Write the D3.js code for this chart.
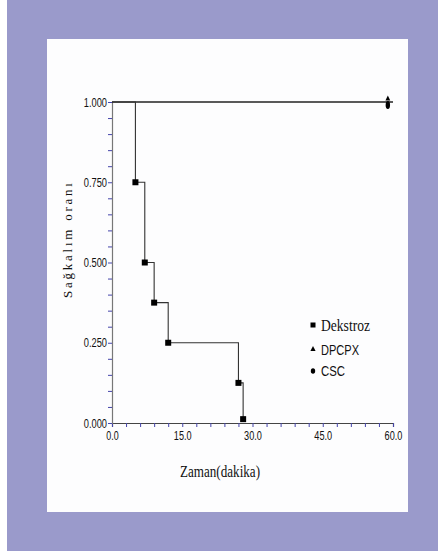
<!DOCTYPE html>
<html><head><meta charset="utf-8">
<script src="https://cdn.jsdelivr.net/npm/d3@7"></script>
<style>body{margin:0;background:#fff}svg{display:block}</style>
</head><body>
<script>
// Data
const dekstrozTime = [0, 5, 7, 9, 12, 27, 28];
const dekstrozSurv = [1.0, 0.75, 0.5, 0.375, 0.25, 0.125, 0.012];
const flatTime = [0, 60];
const flatSurv = [1.0, 1.0];
const censorTime = [58.9];
const censorSurv = [1.0];
const xTicks = [0, 15, 30, 45, 60];
const yTicks = [0, 0.25, 0.5, 0.75, 1.0];
const legendNames = ["Dekstroz", "DPCPX", "CSC"];

const W = 438, H = 555;
const SANS = "Liberation Sans, Arial, sans-serif";
const SERIF = "Liberation Serif, Times New Roman, serif";
const numLen = s => s.replace(/[^0-9]/g, "").length * 5.4 + s.replace(/[0-9]/g, "").length * 1.6;

const svg = d3.select("body").append("svg").attr("width", W).attr("height", H);
svg.append("rect").attr("x", 7).attr("y", 0).attr("width", W - 7).attr("height", 551).attr("fill", "#9a9acb");
svg.append("rect").attr("x", 47).attr("y", 39).attr("width", 361).attr("height", 473).attr("fill", "#fdfdfe");

const x = d3.scaleLinear().domain([0, 60]).range([112, 393]);
const y = d3.scaleLinear().domain([0, 1]).range([423, 102]);

// axes
const gx = svg.append("g").attr("transform", `translate(0,${y(0)})`)
  .call(d3.axisBottom(x).tickValues(d3.range(0, 61, 3)).tickSize(4).tickFormat(""));
gx.select(".domain").attr("stroke", "#444").attr("stroke-width", 1.2);
gx.selectAll(".tick line").attr("stroke", "#4444aa");
const gxl = svg.append("g").attr("transform", `translate(0,${y(0)})`)
  .call(d3.axisBottom(x).tickValues(xTicks).tickSize(0).tickPadding(8).tickFormat(d3.format(".1f")));
gxl.select(".domain").remove();
gxl.selectAll("text").attr("font-family", SANS).attr("font-size", 12.5).attr("fill", "#111")
  .attr("textLength", function () { return numLen(this.textContent); }).attr("lengthAdjust", "spacingAndGlyphs");

const gy = svg.append("g").attr("transform", `translate(${x(0)},0)`)
  .call(d3.axisLeft(y).tickValues(d3.range(0, 1.0001, 0.05)).tickSize(4).tickFormat(""));
gy.select(".domain").attr("stroke", "#777").attr("stroke-width", 1.2);
gy.selectAll(".tick line").attr("stroke", "#4444aa");
const gyl = svg.append("g").attr("transform", `translate(${x(0)},0)`)
  .call(d3.axisLeft(y).tickValues(yTicks).tickSize(0).tickPadding(5).tickFormat(d3.format(".3f")));
gyl.select(".domain").remove();
gyl.selectAll("text").attr("font-family", SANS).attr("font-size", 12.5).attr("fill", "#111")
  .attr("textLength", function () { return numLen(this.textContent); }).attr("lengthAdjust", "spacingAndGlyphs");

// flat lines
const line = d3.line().curve(d3.curveStepAfter).x(d => x(d[0])).y(d => y(d[1]));
svg.append("path").datum(flatTime.map((t, i) => [t, flatSurv[i]]))
  .attr("d", line).attr("fill", "none").attr("stroke", "#222").attr("stroke-width", 1.5);

// Dekstroz step
svg.append("path").datum(dekstrozTime.map((t, i) => [t, dekstrozSurv[i]]))
  .attr("d", line).attr("fill", "none").attr("stroke", "#333").attr("stroke-width", 1.1);
svg.selectAll("rect.sq").data(dekstrozTime.slice(1).map((t, i) => [t, dekstrozSurv[i + 1]]))
  .join("rect").attr("class", "sq")
  .attr("x", d => x(d[0]) - 3).attr("y", d => y(d[1]) - 3).attr("width", 6).attr("height", 6).attr("fill", "#000");

// censor marks
censorTime.forEach((t, i) => {
  svg.append("path").attr("d", "M0,-4.5L2.4,0.5L-2.4,0.5Z").attr("transform", `translate(${x(t)},${y(censorSurv[i]) - 2})`).attr("fill", "#000");
  svg.append("ellipse").attr("cx", x(t)).attr("cy", y(censorSurv[i]) + 3).attr("rx", 2.2).attr("ry", 4).attr("fill", "#000");
});

// legend
const lx = 313, my = [325, 349, 371], by = [331, 355, 376];
svg.append("rect").attr("x", lx - 2.5).attr("y", my[0] - 2.5).attr("width", 5).attr("height", 5).attr("fill", "#000");
svg.append("path").attr("d", "M0,-3L2.6,2L-2.6,2Z").attr("transform", `translate(${lx},${my[1]})`).attr("fill", "#000");
svg.append("ellipse").attr("cx", lx).attr("cy", my[2]).attr("rx", 2.2).attr("ry", 2.8).attr("fill", "#000");
svg.append("text").attr("x", lx + 8).attr("y", by[0]).text(legendNames[0])
  .attr("font-family", SERIF).attr("font-size", 16).attr("fill", "#111")
  .attr("textLength", 49).attr("lengthAdjust", "spacingAndGlyphs");
const lens = [null, 38, 24];
[1, 2].forEach(i => svg.append("text").attr("x", lx + 8).attr("y", by[i]).text(legendNames[i])
  .attr("font-family", SANS).attr("font-size", 14.5).attr("fill", "#111")
  .attr("textLength", lens[i]).attr("lengthAdjust", "spacingAndGlyphs"));

// titles
svg.append("text").attr("x", 180).attr("y", 477).text("Zaman(dakika)")
  .attr("font-family", SERIF).attr("font-size", 16).attr("fill", "#111")
  .attr("textLength", 80).attr("lengthAdjust", "spacingAndGlyphs");
svg.append("text").attr("transform", "translate(72,298) rotate(-90)").text("Sağkalım oranı")
  .attr("font-family", SERIF).attr("font-size", 13).attr("fill", "#111")
  .attr("textLength", 115).attr("lengthAdjust", "spacing");
</script>
</body></html>
